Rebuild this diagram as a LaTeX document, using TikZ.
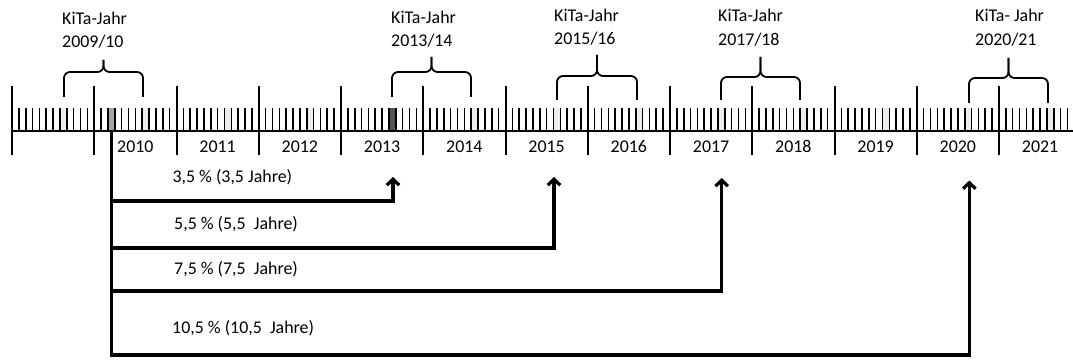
\documentclass[tikz,border=0pt]{standalone}
\usepackage{fontspec}
\setmainfont{Carlito}
\usetikzlibrary{arrows.meta}

\definecolor{augusthell}{HTML}{EDEDED}
\definecolor{markmittel}{HTML}{A5A5A5}
\definecolor{markdunkel}{HTML}{555555}

\tikzset{
  monatsstrich/.style={line width=1.6pt},
  jahresstrich/.style={line width=2pt},
  klammer/.style={line width=1.8pt, rounded corners=6pt},
  pfeil/.style={line width=3.2pt, -{Straight Barb[length=6pt,width=12.5pt]}},
  beschriftung/.style={font=\fontsize{17.9pt}{23.5pt}\selectfont, inner sep=0pt}
}

% x links, x rechts, Fuss, Querlinie, Spitze
\newcommand{\kitaklammer}[5]{%
  \draw[klammer] (#1,#3) -- (#1,#4) -- ({(#1+#2)/2},#4) -- ({(#1+#2)/2},#5);
  \draw[klammer] (#2,#3) -- (#2,#4) -- ({(#1+#2)/2},#4) -- ({(#1+#2)/2},#5);
}

\begin{document}
\begin{tikzpicture}[x=1pt, y=-1pt]
 \useasboundingbox (0,0) rectangle (1073,363);
 \def\monat{6.854}
 \def\jahr{82.25}

    %Zeitstrahl
    \coordinate (links) at (12,131);
    \coordinate (rechts) at (1073,131);
    \foreach \j in {0,...,12}
      \fill[augusthell] ({12+(12*\j+7)*\monat},108) rectangle ++(\monat,23);
    \fill[markmittel] ({12+14*\monat},108) rectangle ++(\monat,23);
    \fill[markdunkel] ({12+55*\monat},108) rectangle ++(\monat,23);
    \foreach \m in {1,...,154}
      \draw[monatsstrich] ({12+\m*\monat},108) -- ({12+\m*\monat},131);
    \foreach \j in {0,...,12}
      \draw[jahresstrich] ({12+\j*\jahr},86) -- ({12+\j*\jahr},155);
    \draw[jahresstrich] (links) -- (rechts);
    \foreach \y [count=\i] in {2010,...,2021}
      \node[beschriftung, anchor=base] (j\y) at ({12+(\i+0.5)*\jahr},153) {\y};

    % KiTa-Jahre
    \kitaklammer{64}{143}{97}{72}{60}
    \kitaklammer{392}{471}{97}{72}{57}
    \kitaklammer{557}{637}{100}{76}{55}
    \kitaklammer{721}{800}{100}{77}{57}
    \kitaklammer{969}{1048}{103}{78}{58}
    \node[beschriftung, anchor=base west, align=left] (k0910) at (62,48) {KiTa-Jahr\\2009/10};
    \node[beschriftung, anchor=base west, align=left] (k1314) at (391,47) {KiTa-Jahr\\2013/14};
    \node[beschriftung, anchor=base west, align=left] (k1516) at (554,45) {KiTa-Jahr\\2015/16};
    \node[beschriftung, anchor=base west, align=left] (k1718) at (718,45.5) {KiTa-Jahr\\2017/18};
    \node[beschriftung, anchor=base west, align=left] (k2021) at (975,45.5) {KiTa- Jahr\\2020/21};

    % Pfeile
    \coordinate (start) at (111.4,131);
    \coordinate (unten) at (111.4,357);
    \draw[line width=3.6pt] (start) -- (unten);
    \coordinate (a35) at (111.4,201);
    \coordinate (a55) at (111.4,248);
    \coordinate (a75) at (111.4,291);
    \coordinate (a105) at (111.4,355);
    \coordinate (z35) at (393,177);
    \coordinate (z55) at (554,177);
    \coordinate (z75) at (721.7,178);
    \coordinate (z105) at (969.3,180.5);
    \draw[pfeil] (a35) -| (z35);
    \draw[pfeil] (a55) -| (z55);
    \draw[pfeil] (a75) -| (z75);
    \draw[pfeil] (a105) -| (z105);
    \node[beschriftung, anchor=base west] (p35) at (172.3,183) {3,5 \% (3,5 Jahre)};
    \node[beschriftung, anchor=base west] (p55) at (174,230) {5,5 \% (5,5\ \ Jahre)};
    \node[beschriftung, anchor=base west] (p75) at (174,275) {7,5 \% (7,5\ \ Jahre)};
    \node[beschriftung, anchor=base west] (p105) at (172,333) {10,5 \% (10,5\ \ Jahre)};
\end{tikzpicture}
\end{document}
